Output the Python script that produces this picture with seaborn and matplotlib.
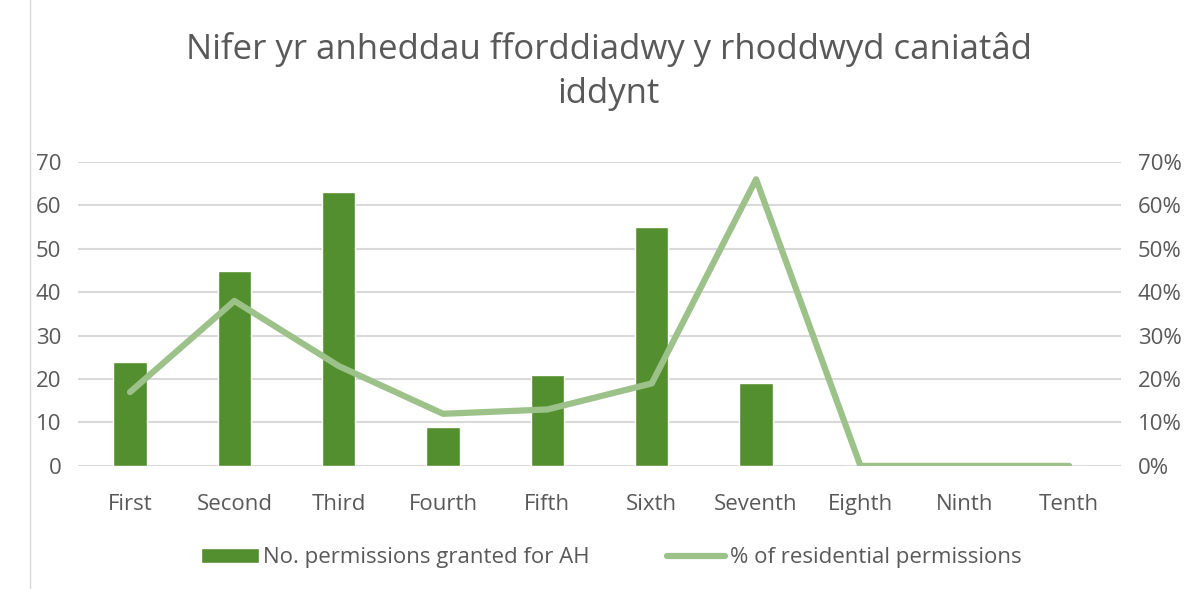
import pandas as pd
import numpy as np
import matplotlib
matplotlib.use("Agg")
import matplotlib.pyplot as plt
import seaborn as sns
from matplotlib.ticker import PercentFormatter
from matplotlib.patches import Patch
from matplotlib.lines import Line2D

# Chart data
quarters = ['First', 'Second', 'Third', 'Fourth', 'Fifth',
            'Sixth', 'Seventh', 'Eighth', 'Ninth', 'Tenth']
permissions_ah = [24, 45, 63, 9, 21, 55, 19, 0, 0, 0]
pct_residential = [17, 38, 23, 12, 13, 19, 66, 0, 0, 0]

bar_label = 'No. permissions granted for AH'
line_label = '% of residential permissions'

df = pd.DataFrame({'quarter': quarters,
                   'ah': permissions_ah,
                   'pct': pct_residential})

bar_color = '#548f2f'
line_color = '#9cc28a'
text_color = '#595959'
grid_color = '#d9d9d9'

sns.set_theme(style='white')
plt.rcParams['font.family'] = ['Open Sans', 'DejaVu Sans']

fig = plt.figure(figsize=(11.98, 5.89), dpi=100)
ax = fig.add_axes([0.065, 0.209, 0.871, 0.516])

sns.barplot(data=df, x='quarter', y='ah', color=bar_color, width=0.32,
            saturation=1, ax=ax, zorder=2)
ax.set_ylim(0, 70)
ax.set_yticks(np.arange(0, 71, 10))
ax.yaxis.grid(True, color=grid_color, linewidth=1.5, zorder=0)
ax.set_axisbelow(True)

ax2 = ax.twinx()
sns.lineplot(data=df, x='quarter', y='pct', color=line_color, linewidth=4.5,
             solid_capstyle='round', sort=False, ax=ax2)
ax2.set_ylim(0, 70)
ax2.set_yticks(np.arange(0, 71, 10))
ax2.yaxis.set_major_formatter(PercentFormatter(decimals=0))
ax.set_xlim(-0.5, len(quarters) - 0.5)

for a in (ax, ax2):
    for s in a.spines.values():
        s.set_visible(False)
    a.set_xlabel('')
    a.set_ylabel('')
    a.tick_params(axis='both', length=0, labelsize=16, colors=text_color, pad=12)
ax.tick_params(axis='x', pad=20)

fig.suptitle('Nifer yr anheddau fforddiadwy y rhoddwyd caniatâd\niddynt',
             x=0.508, y=0.945, va='top', fontsize=25, color=text_color,
             linespacing=1.38)

handles = [Patch(facecolor=bar_color, label=bar_label),
           Line2D([0], [0], color=line_color, linewidth=4.5, label=line_label)]
fig.legend(handles=handles, loc='center', bbox_to_anchor=(0.51, 0.053), ncol=2,
           frameon=False, fontsize=16, labelcolor=text_color,
           handlelength=2.6, handletextpad=0.2, columnspacing=3.5)

# outer chart border on left
fig.add_artist(Line2D([0.025, 0.025], [0.0, 1.0], color=grid_color, linewidth=1))

fig.savefig('out.png', dpi=100)
